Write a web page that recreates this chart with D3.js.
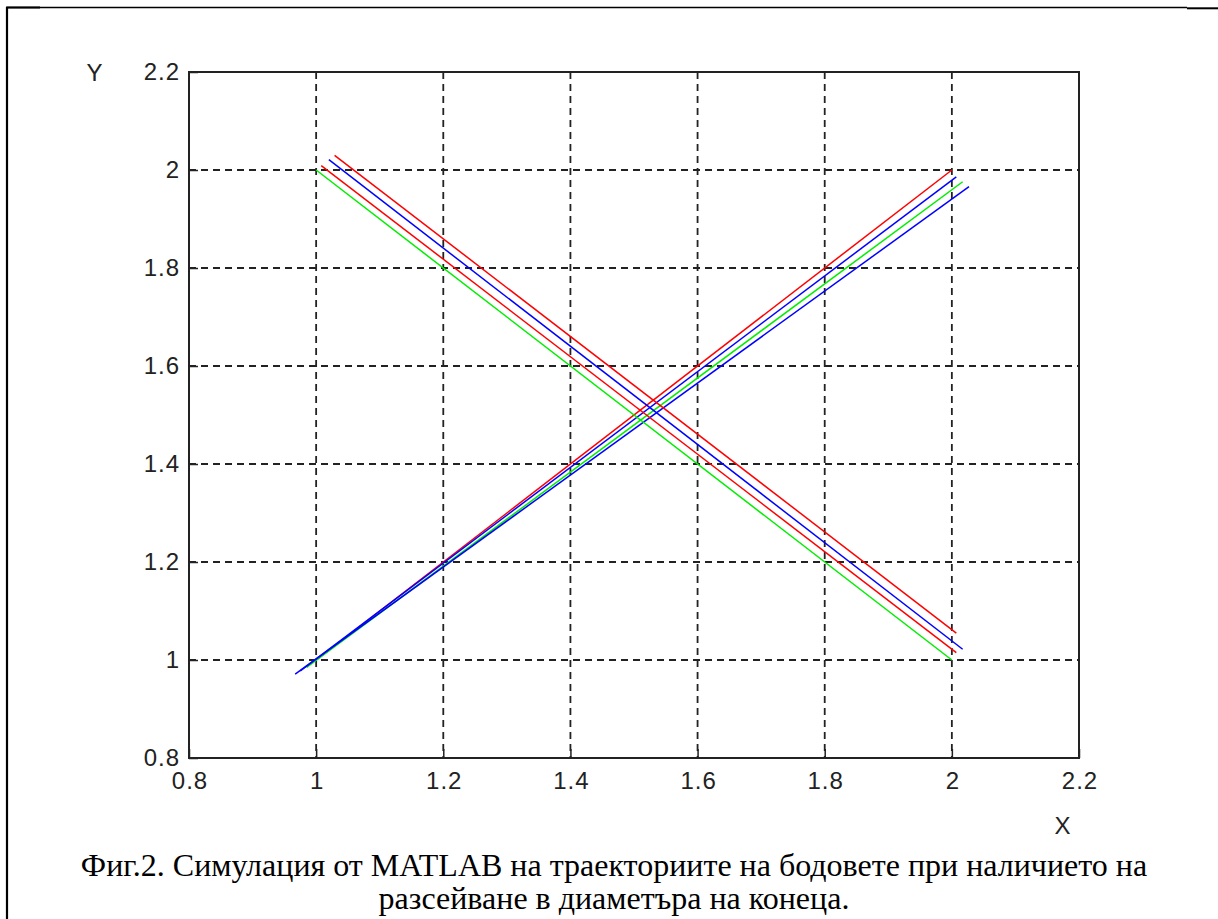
<!DOCTYPE html>
<html>
<head>
<meta charset="utf-8">
<script src="https://cdn.jsdelivr.net/npm/d3@7"></script>
<style>
  body { margin: 0; background: #fff; }
  .tick-label { font-family: "Liberation Sans", Arial, sans-serif; font-size: 24px; fill: #222; letter-spacing: 1px; }
  .caption { font-family: "Liberation Serif", "Times New Roman", serif; font-size: 32px; fill: #000; }
</style>
</head>
<body>
<script>
// ticks
var xTicks = [0.8, 1, 1.2, 1.4, 1.6, 1.8, 2, 2.2],
    xTickLabels = ["0.8", "1", "1.2", "1.4", "1.6", "1.8", "2", "2.2"],
    yTicks = [0.8, 1, 1.2, 1.4, 1.6, 1.8, 2, 2.2],
    yTickLabels = ["0.8", "1", "1.2", "1.4", "1.6", "1.8", "2", "2.2"];

// falling trajectories (x, y)
var downGreen = [[1.0, 2.0], [2.0, 1.0]],
    downRed1 = [[1.008, 2.009], [2.007, 1.015]],
    downBlue = [[1.020, 2.021], [2.017, 1.022]],
    downRed2 = [[1.029, 2.030], [2.007, 1.055]];

// rising trajectories (x, y)
var upRed = [[1.0, 1.0], [2.0, 2.0]],
    upBlue1 = [[0.975, 0.978], [2.007, 1.986]],
    upGreen = [[0.985, 0.985], [2.017, 1.976]],
    upBlue2 = [[0.967, 0.971], [2.027, 1.966]];

var captionLines = [
    "Фиг.2. Симулация от MATLAB на траекториите на бодовете при наличието на",
    "разсейване в диаметъра на конеца."
];

var W = 1218, H = 919;
var svg = d3.select("body").append("svg")
    .attr("width", W).attr("height", H);

// page frame (table border from the document)
svg.append("line").attr("x1", 7).attr("y1", 7).attr("x2", 7).attr("y2", H)
    .attr("stroke", "#000").attr("stroke-width", 2.2);
svg.append("line").attr("x1", 7).attr("y1", 7.5).attr("x2", 1187).attr("y2", 7.5)
    .attr("stroke", "#000").attr("stroke-width", 1.3);
svg.append("line").attr("x1", 6).attr("y1", 7.5).attr("x2", 40).attr("y2", 7.5)
    .attr("stroke", "#000").attr("stroke-width", 2.2);
svg.append("line").attr("x1", 1187).attr("y1", 8.3).attr("x2", W).attr("y2", 8.3)
    .attr("stroke", "#000").attr("stroke-width", 2);

var x = d3.scaleLinear().domain([0.8, 2.2]).range([189, 1079]),
    y = d3.scaleLinear().domain([0.8, 2.2]).range([758, 72]);

var plot = svg.append("g");

// grid
plot.selectAll(".vgrid").data(xTicks.slice(1, -1)).enter().append("line")
    .attr("x1", function (d) { return x(d); }).attr("x2", function (d) { return x(d); })
    .attr("y1", y(2.2)).attr("y2", y(0.8))
    .attr("stroke", "#222").attr("stroke-width", 1.8).attr("stroke-dasharray", "7,5");
plot.selectAll(".hgrid").data(yTicks.slice(1, -1)).enter().append("line")
    .attr("y1", function (d) { return y(d); }).attr("y2", function (d) { return y(d); })
    .attr("x1", x(0.8)).attr("x2", x(2.2))
    .attr("stroke", "#222").attr("stroke-width", 1.8).attr("stroke-dasharray", "7,5");

// data lines
var line = d3.line()
    .x(function (d) { return x(d[0]); })
    .y(function (d) { return y(d[1]); });

var series = [
    { pts: upRed, color: "#ff0000" },
    { pts: upGreen, color: "#00ee00" },
    { pts: upBlue1, color: "#0000ff" },
    { pts: upBlue2, color: "#0000ff" },
    { pts: downGreen, color: "#00ee00" },
    { pts: downRed1, color: "#ff0000" },
    { pts: downBlue, color: "#0000ff" },
    { pts: downRed2, color: "#ff0000" }
];
plot.selectAll(".traj").data(series).enter().append("path")
    .attr("d", function (d) { return line(d.pts); })
    .attr("fill", "none")
    .attr("stroke", function (d) { return d.color; })
    .attr("stroke-width", 1.5);

// axes (MATLAB style, inward ticks, box)
var tickLen = 9;
svg.append("g").attr("transform", "translate(0," + y(0.8) + ")")
    .call(d3.axisBottom(x).tickValues(xTicks).tickSize(-tickLen).tickFormat(""))
    .call(function (g) { g.select(".domain").remove(); g.selectAll("line").attr("stroke", "#222").attr("stroke-width", 1.5); });
svg.append("g").attr("transform", "translate(" + x(0.8) + ",0)")
    .call(d3.axisLeft(y).tickValues(yTicks).tickSize(-tickLen).tickFormat(""))
    .call(function (g) { g.select(".domain").remove(); g.selectAll("line").attr("stroke", "#222").attr("stroke-width", 1.5); });

svg.append("rect")
    .attr("x", x(0.8)).attr("y", y(2.2))
    .attr("width", x(2.2) - x(0.8)).attr("height", y(0.8) - y(2.2))
    .attr("fill", "none").attr("stroke", "#222").attr("stroke-width", 2);

// tick labels
svg.selectAll(".xl").data(xTicks).enter().append("text")
    .attr("class", "tick-label")
    .attr("x", function (d) { return x(d) + 1; })
    .attr("y", 789)
    .attr("text-anchor", "middle")
    .text(function (d, i) { return xTickLabels[i]; });
svg.selectAll(".yl").data(yTicks).enter().append("text")
    .attr("class", "tick-label")
    .attr("x", 180)
    .attr("y", function (d) { return y(d); })
    .attr("dy", "0.35em")
    .attr("text-anchor", "end")
    .text(function (d, i) { return yTickLabels[i]; });

// axis names
svg.append("text").attr("class", "tick-label")
    .attr("x", 95).attr("y", 73).attr("dy", "0.35em").attr("text-anchor", "middle").text("Y");
svg.append("text").attr("class", "tick-label")
    .attr("x", 1063).attr("y", 826).attr("dy", "0.35em").attr("text-anchor", "middle").text("X");

// caption
svg.selectAll(".caption").data(captionLines).enter().append("text")
    .attr("class", "caption")
    .attr("x", 614)
    .attr("y", function (d, i) { return 876 + i * 33; })
    .attr("text-anchor", "middle")
    .text(function (d) { return d; });
</script>
</body>
</html>
